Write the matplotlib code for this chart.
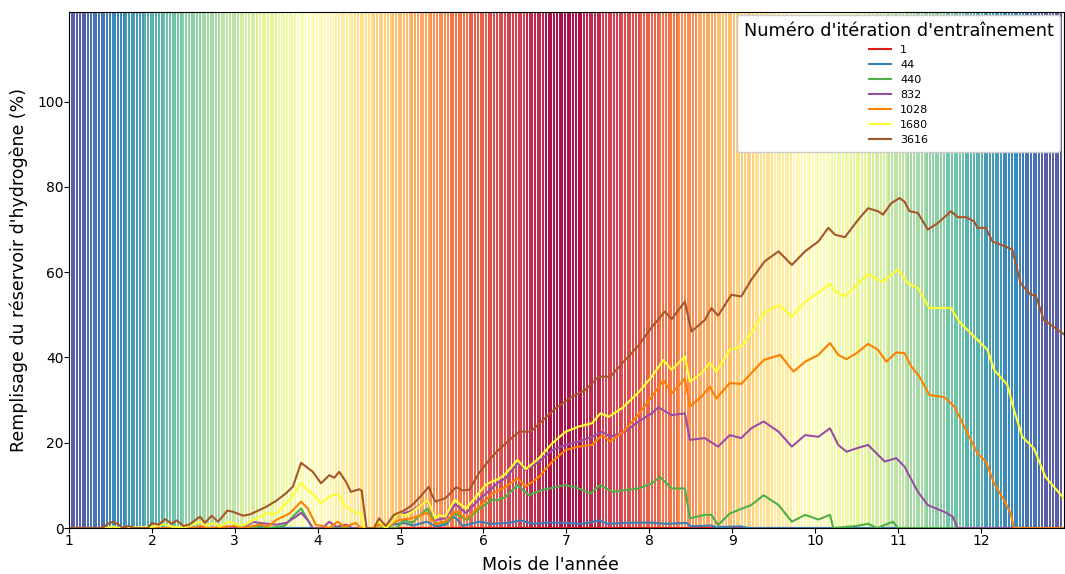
import numpy as np
import matplotlib
matplotlib.use("Agg")
import matplotlib.pyplot as plt

# weekly season level (0 = winter, 1 = summer) used for the background colours
season_week = [0.02, 0.06, 0.10, 0.13, 0.17, 0.21, 0.25, 0.29, 0.33, 0.37,
               0.40, 0.44, 0.48, 0.52, 0.56, 0.60, 0.63, 0.67, 0.71, 0.75,
               0.79, 0.83, 0.87, 0.90, 0.94, 0.98, 0.98, 0.94, 0.90, 0.87,
               0.83, 0.79, 0.75, 0.71, 0.67, 0.63, 0.60, 0.56, 0.52, 0.48,
               0.44, 0.40, 0.37, 0.33, 0.29, 0.25, 0.21, 0.17, 0.13, 0.10,
               0.06, 0.02, 0.00]

# tank filling (%) per training iteration, read at month positions
it1_m = [1.0, 13.0]
it1_v = [0.0, 0.0]

it44_m = [1.0, 4.80, 4.90, 5.04, 5.15, 5.32, 5.42, 5.55, 5.62, 5.67, 5.75, 5.95,
          6.10, 6.30, 6.45, 6.60, 6.80, 7.00, 7.20, 7.40, 7.50, 7.70, 8.00, 8.20,
          8.45, 8.50, 8.75, 8.80, 9.10, 9.20, 13.0]
it44_v = [0.0, 0.0, 0.8, 1.2, 0.6, 1.5, 0.4, 0.8, 2.7, 2.3, 0.5, 1.5,
          1.0, 1.2, 1.8, 1.0, 1.3, 1.2, 1.0, 1.8, 1.0, 1.2, 1.3, 1.0,
          1.2, 0.4, 0.6, 0.2, 0.4, 0.0, 0.0]

it440_m = [1.0, 3.20, 3.30, 3.40, 3.60, 3.70, 3.80, 3.88, 3.94, 4.95, 5.04, 5.14,
           5.32, 5.42, 5.54, 5.66, 5.80, 5.93, 6.10, 6.19, 6.27, 6.41, 6.55, 6.70,
           6.99, 7.15, 7.29, 7.41, 7.55, 7.71, 7.87, 8.03, 8.13, 8.27, 8.43, 8.49,
           8.67, 8.75, 8.83, 8.97, 9.07, 9.23, 9.38, 9.56, 9.72, 9.88, 10.04, 10.18,
           10.22, 10.50, 10.64, 10.75, 10.94, 11.00, 13.0]
it440_v = [0.0, 0.0, 0.5, 0.0, 0.5, 2.7, 4.6, 1.9, 0.0, 0.0, 1.9, 1.2,
           4.6, 1.0, 1.2, 3.4, 1.9, 4.2, 6.6, 6.6, 7.4, 10.1, 7.7, 8.9,
           10.1, 9.3, 8.1, 10.1, 8.5, 8.9, 9.3, 10.5, 12.0, 9.3, 9.3, 2.3,
           3.1, 3.1, 0.7, 3.4, 4.2, 5.4, 7.7, 5.4, 1.5, 3.1, 2.0, 3.1,
           0.0, 0.5, 1.0, 0.0, 1.5, 0.0, 0.0]

it832_m = [1.0, 2.50, 2.54, 2.60, 3.10, 3.22, 3.30, 3.50, 3.62, 3.74, 3.80, 3.88,
           3.94, 4.06, 4.14, 4.22, 4.34, 4.42, 4.70, 4.74, 4.82, 4.98, 5.14, 5.32,
           5.42, 5.54, 5.66, 5.79, 5.93, 6.10, 6.19, 6.27, 6.41, 6.51, 6.67, 6.83,
           6.99, 7.15, 7.31, 7.43, 7.53, 7.71, 7.87, 8.03, 8.11, 8.27, 8.43, 8.49,
           8.67, 8.83, 8.97, 9.11, 9.23, 9.38, 9.56, 9.72, 9.88, 10.04, 10.18, 10.28,
           10.38, 10.50, 10.64, 10.84, 10.98, 11.08, 11.24, 11.36, 11.56, 11.66, 11.72, 13.0]
it832_v = [0.0, 0.0, 0.3, 0.0, 0.0, 1.5, 1.2, 0.8, 1.2, 2.7, 3.6, 1.9,
           0.0, 0.0, 1.5, 0.3, 0.8, 0.0, 0.0, 1.2, 0.0, 3.1, 4.1, 6.6,
           1.9, 2.3, 5.6, 3.5, 6.4, 9.3, 10.9, 11.7, 15.2, 13.6, 15.6, 18.3,
           19.5, 20.3, 21.4, 22.6, 21.4, 22.6, 25.0, 26.9, 28.3, 26.5, 26.9, 20.7,
           21.1, 19.1, 21.8, 21.1, 23.4, 25.0, 22.6, 19.1, 21.8, 21.4, 23.4, 19.5,
           17.9, 18.7, 19.5, 15.6, 16.4, 14.4, 8.5, 5.4, 3.8, 2.7, 0.0, 0.0]

it1028_m = [1.0, 2.50, 2.58, 2.70, 3.00, 3.10, 3.30, 3.40, 3.50, 3.66, 3.80, 3.88,
            3.98, 4.06, 4.14, 4.24, 4.32, 4.46, 4.52, 4.70, 4.74, 4.82, 4.98, 5.14,
            5.32, 5.42, 5.54, 5.67, 5.79, 5.95, 6.10, 6.19, 6.27, 6.41, 6.51, 6.67,
            6.83, 6.99, 7.15, 7.31, 7.43, 7.53, 7.71, 7.87, 8.03, 8.17, 8.27, 8.43,
            8.49, 8.63, 8.73, 8.81, 8.97, 9.11, 9.23, 9.38, 9.58, 9.74, 9.88, 10.04,
            10.18, 10.28, 10.38, 10.50, 10.64, 10.76, 10.86, 10.98, 11.08, 11.16, 11.26, 11.38,
            11.56, 11.68, 11.80, 11.96, 12.06, 12.16, 12.28, 12.36, 12.40, 13.0]
it1028_v = [0.0, 0.0, 0.5, 0.0, 0.5, 0.0, 0.8, 0.4, 1.9, 3.4, 6.2, 4.6,
            0.7, 0.5, 0.0, 1.5, 0.3, 1.2, 0.0, 0.0, 0.9, 0.0, 1.9, 2.3,
            3.6, 0.9, 1.5, 4.0, 2.2, 5.0, 8.0, 8.9, 9.7, 11.7, 9.7, 12.0,
            15.6, 18.3, 19.1, 19.5, 21.8, 20.3, 23.0, 26.7, 30.8, 34.7, 31.6, 35.1,
            28.5, 30.8, 33.2, 30.4, 34.0, 33.8, 36.3, 39.4, 40.6, 36.7, 39.0, 40.6,
            43.4, 40.6, 39.6, 41.0, 43.2, 41.8, 39.0, 41.2, 41.0, 37.9, 35.5, 31.2,
            30.7, 28.5, 23.8, 17.5, 15.6, 10.5, 6.6, 3.4, 0.0, 0.0]

it1680_m = [1.0, 1.45, 1.53, 1.60, 2.00, 2.15, 2.25, 2.40, 2.58, 2.66, 2.74, 2.82,
            2.93, 3.05, 3.13, 3.22, 3.30, 3.38, 3.50, 3.66, 3.80, 3.88, 3.96, 4.04,
            4.14, 4.24, 4.34, 4.44, 4.52, 4.56, 4.66, 4.74, 4.82, 4.90, 4.98, 5.06,
            5.14, 5.22, 5.32, 5.36, 5.42, 5.46, 5.54, 5.65, 5.79, 5.91, 6.03, 6.10,
            6.19, 6.27, 6.41, 6.51, 6.67, 6.83, 6.99, 7.15, 7.31, 7.41, 7.51, 7.67,
            7.87, 8.03, 8.17, 8.27, 8.43, 8.49, 8.63, 8.73, 8.81, 8.97, 9.11, 9.23,
            9.38, 9.56, 9.72, 9.88, 10.04, 10.18, 10.24, 10.36, 10.50, 10.64, 10.76, 10.82,
            11.00, 11.12, 11.24, 11.38, 11.64, 11.74, 11.92, 12.08, 12.16, 12.32, 12.40, 12.50,
            12.64, 12.78, 13.0]
it1680_v = [0.0, 0.0, 0.4, 0.0, 0.3, 0.9, 0.3, 0.2, 1.5, 0.5, 1.2, 0.4,
            1.5, 0.6, 0.8, 1.8, 2.7, 3.4, 3.4, 6.6, 10.6, 8.9, 7.6, 5.8,
            7.4, 8.0, 5.0, 3.8, 3.4, 0.0, 0.0, 1.5, 0.0, 1.5, 3.3, 3.0,
            3.8, 5.0, 6.6, 5.0, 2.2, 3.0, 2.7, 6.6, 4.6, 7.4, 10.2, 10.9,
            11.6, 12.8, 16.0, 13.8, 16.4, 19.9, 22.6, 23.8, 24.6, 26.9, 26.1, 28.1,
            31.8, 35.5, 39.4, 37.1, 40.2, 34.3, 36.3, 38.7, 36.7, 41.8, 42.6, 45.7,
            50.4, 52.3, 49.6, 53.1, 55.1, 57.3, 55.5, 54.3, 57.0, 59.6, 58.2, 57.8,
            60.7, 57.4, 56.3, 51.6, 51.6, 48.4, 44.9, 41.8, 37.1, 33.6, 27.7, 21.4,
            18.7, 12.0, 7.0]

it3616_m = [1.0, 1.40, 1.47, 1.53, 1.60, 1.65, 1.72, 1.78, 1.95, 2.00, 2.08, 2.16,
            2.24, 2.30, 2.38, 2.45, 2.58, 2.64, 2.72, 2.80, 2.91, 2.98, 3.10, 3.18,
            3.26, 3.38, 3.50, 3.62, 3.70, 3.80, 3.88, 3.94, 4.04, 4.14, 4.20, 4.26,
            4.34, 4.40, 4.50, 4.53, 4.59, 4.68, 4.74, 4.82, 4.92, 5.04, 5.14, 5.24,
            5.34, 5.38, 5.42, 5.54, 5.67, 5.75, 5.83, 5.95, 6.07, 6.16, 6.27, 6.43,
            6.57, 6.70, 6.87, 7.07, 7.23, 7.39, 7.53, 7.71, 7.87, 8.03, 8.19, 8.27,
            8.43, 8.51, 8.67, 8.75, 8.83, 8.99, 9.11, 9.23, 9.39, 9.56, 9.72, 9.88,
            10.04, 10.16, 10.24, 10.36, 10.52, 10.64, 10.76, 10.82, 10.92, 11.02, 11.08, 11.14,
            11.24, 11.36, 11.48, 11.64, 11.72, 11.82, 11.92, 11.96, 12.06, 12.14, 12.30, 12.38,
            12.48, 12.60, 12.66, 12.76, 12.87, 13.0]
it3616_v = [0.0, 0.0, 1.0, 1.5, 0.8, 0.0, 0.5, 0.0, 0.0, 1.2, 0.8, 2.1,
            1.0, 1.8, 0.5, 0.8, 2.7, 1.2, 2.9, 1.5, 4.1, 3.8, 2.9, 3.2,
            3.9, 5.0, 6.4, 8.2, 9.7, 15.3, 14.1, 13.2, 10.5, 12.4, 11.8, 13.2,
            10.9, 8.5, 9.1, 8.8, 0.0, 0.0, 2.3, 0.5, 3.1, 4.1, 5.4, 7.4,
            9.7, 7.7, 6.2, 7.0, 9.6, 8.8, 9.0, 13.0, 16.0, 17.9, 19.9, 22.6,
            22.6, 25.0, 28.1, 30.8, 32.4, 35.5, 35.5, 39.4, 42.8, 47.1, 50.8, 49.0,
            53.1, 46.1, 48.8, 51.6, 49.8, 54.7, 54.3, 58.2, 62.5, 64.9, 61.7, 64.9,
            67.2, 70.4, 68.8, 68.2, 72.3, 75.0, 74.3, 73.5, 76.2, 77.4, 76.5, 74.3,
            73.9, 70.0, 71.5, 74.3, 72.9, 72.9, 71.9, 70.4, 70.4, 67.2, 66.0, 65.3,
            57.4, 54.7, 54.7, 48.8, 47.3, 45.5]

iterations = ["1", "44", "440", "832", "1028", "1680", "3616"]
series = [(it1_m, it1_v), (it44_m, it44_v), (it440_m, it440_v), (it832_m, it832_v),
          (it1028_m, it1028_v), (it1680_m, it1680_v), (it3616_m, it3616_v)]
colors = ["#e41a1c", "#377eb8", "#4daf4a", "#984ea3", "#ff7f00", "#ffff33", "#a65628"]

fig = plt.figure(figsize=(10.65, 5.74), dpi=100)
ax = fig.add_axes([0.0648, 0.080, 0.934, 0.899])

# background: one vertical line per day, coloured by season
cmap = plt.get_cmap("Spectral_r")
days = np.arange(365)
day_x = 1 + days * 12 / 365
day_level = np.array(season_week)[days // 7]
ax.vlines(day_x, 0, 1, transform=ax.get_xaxis_transform(),
          colors=cmap(day_level), linewidth=1.4, zorder=0)

for (m, v), lab, c in zip(series, iterations, colors):
    ax.plot(m, v, color=c, linewidth=1.5, label=lab)

ax.set_xlim(1, 13)
ax.set_ylim(0, 121)
ax.set_xticks(range(1, 13))
ax.set_yticks(range(0, 101, 20))
ax.tick_params(labelsize=10, pad=0.5)
ax.set_xlabel("Mois de l'année", fontsize=12.5)
ax.set_ylabel("Remplisage du réservoir d'hydrogène (%)", fontsize=12.5, labelpad=6.5)
ax.xaxis.set_label_coords(0.484, -0.055)

leg = ax.legend(title="Numéro d'itération d'entraînement", loc="upper right",
                fontsize=8, title_fontsize=12.7, framealpha=1, handlelength=2.0,
                borderpad=0.6, borderaxespad=0.3, labelspacing=0.45)

fig.savefig("out.png", dpi=100)
